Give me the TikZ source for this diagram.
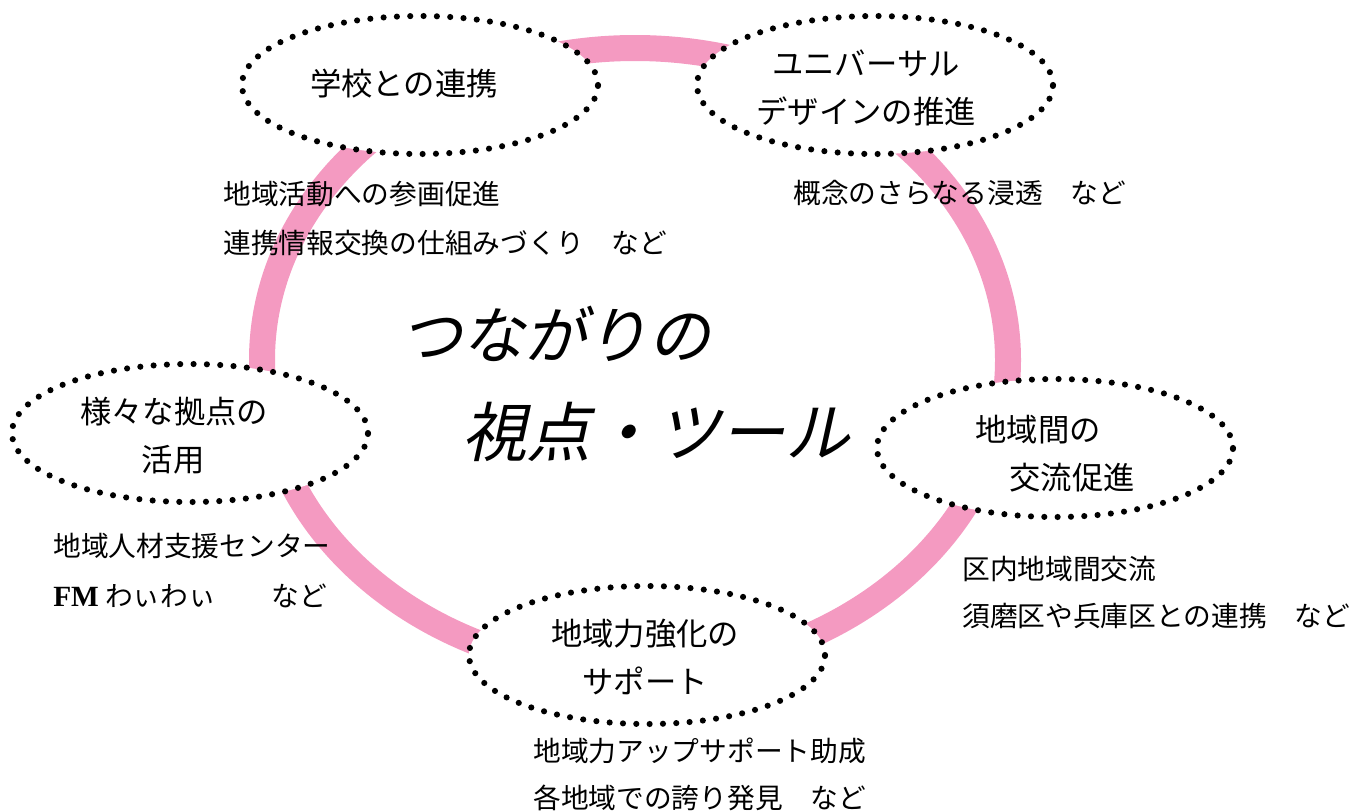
\documentclass[tikz,border=0pt]{standalone}
\usepackage{fontspec}
\usetikzlibrary{shapes.geometric}
\newfontfamily\jpfont{Noto Sans CJK JP}
\newfontfamily\jpslant[FakeSlant=0.22]{Noto Sans CJK JP}
\newfontfamily\latinfont{Liberation Serif}
\definecolor{ringpink}{RGB}{244,154,193}
\tikzset{
  dotring/.style={ellipse, draw, fill=white, line width=4.6pt, line cap=round,
    dash pattern=on 0pt off 10pt, minimum width=267pt, minimum height=103.5pt, inner sep=0pt},
  inlabel/.style={font=\jpfont\fontsize{23.5}{28}\selectfont, inner sep=0pt},
  outlabel/.style={anchor=west, font=\jpfont\fontsize{20.8}{25}\selectfont, inner sep=0pt},
  bigtitle/.style={font=\jpslant\fontsize{46.5}{55}\selectfont, inner sep=0pt}
}
\begin{document}
\begin{tikzpicture}[x=0.75pt,y=0.75pt,yscale=-1,xscale=1]
\useasboundingbox (0,0) rectangle (1352,811);

%Pink ring
\draw [color=ringpink, line width=19.5pt] (635,360) ellipse [x radius=373, y radius=312];

%Dotted ellipses
\node [dotring] (gakko) at (420,85) {};
\node [dotring] (univ) at (875,85) {};
\node [dotring] (kyoten) at (190,433) {};
\node [dotring] (chiikikan) at (1055,448) {};
\node [dotring] (support) at (647,655) {};

% Ellipse Text
\node [inlabel] (gakkoA) at (404,84) {学校との連携};
\node [inlabel] (univA) at (866,63) {ユニバーサル};
\node [inlabel] (univB) at (866,111) {デザインの推進};
\node [inlabel] (kyotenA) at (174,412) {様々な拠点の};
\node [inlabel] (kyotenB) at (173,460) {活用};
\node [inlabel] (chiikikanA) at (1038,430) {地域間の};
\node [inlabel] (chiikikanB) at (1072,478) {交流促進};
\node [inlabel] (supportA) at (645,634) {地域力強化の};
\node [inlabel] (supportB) at (645,681) {サポート};

% Text Node
\node [outlabel] (gakkoC) at (223,194) {地域活動への参画促進};
\node [outlabel] (gakkoD) at (223,243) {連携情報交換の仕組みづくり　など};
\node [outlabel] (univC) at (793,193) {概念のさらなる浸透　など};
\node [outlabel] (kyotenC) at (53,546) {地域人材支援センター};
\node [outlabel] (kyotenD) at (53,596) {{\latinfont\bfseries\fontsize{22}{25}\selectfont FM} わぃわぃ　　など};
\node [outlabel] (chiikikanC) at (962,569) {区内地域間交流};
\node [outlabel] (chiikikanD) at (962,616) {須磨区や兵庫区との連携　など};
\node [outlabel] (supportC) at (533,751) {地域力アップサポート助成};
\node [outlabel] (supportD) at (533,798) {各地域での誇り発見　など};

% Title
\node [bigtitle] (titleA) at (555,334) {つながりの};
\node [bigtitle, font=\jpslant\fontsize{48.5}{56}\selectfont] (titleB) at (656,432) {視点・ツール};

\end{tikzpicture}
\end{document}
